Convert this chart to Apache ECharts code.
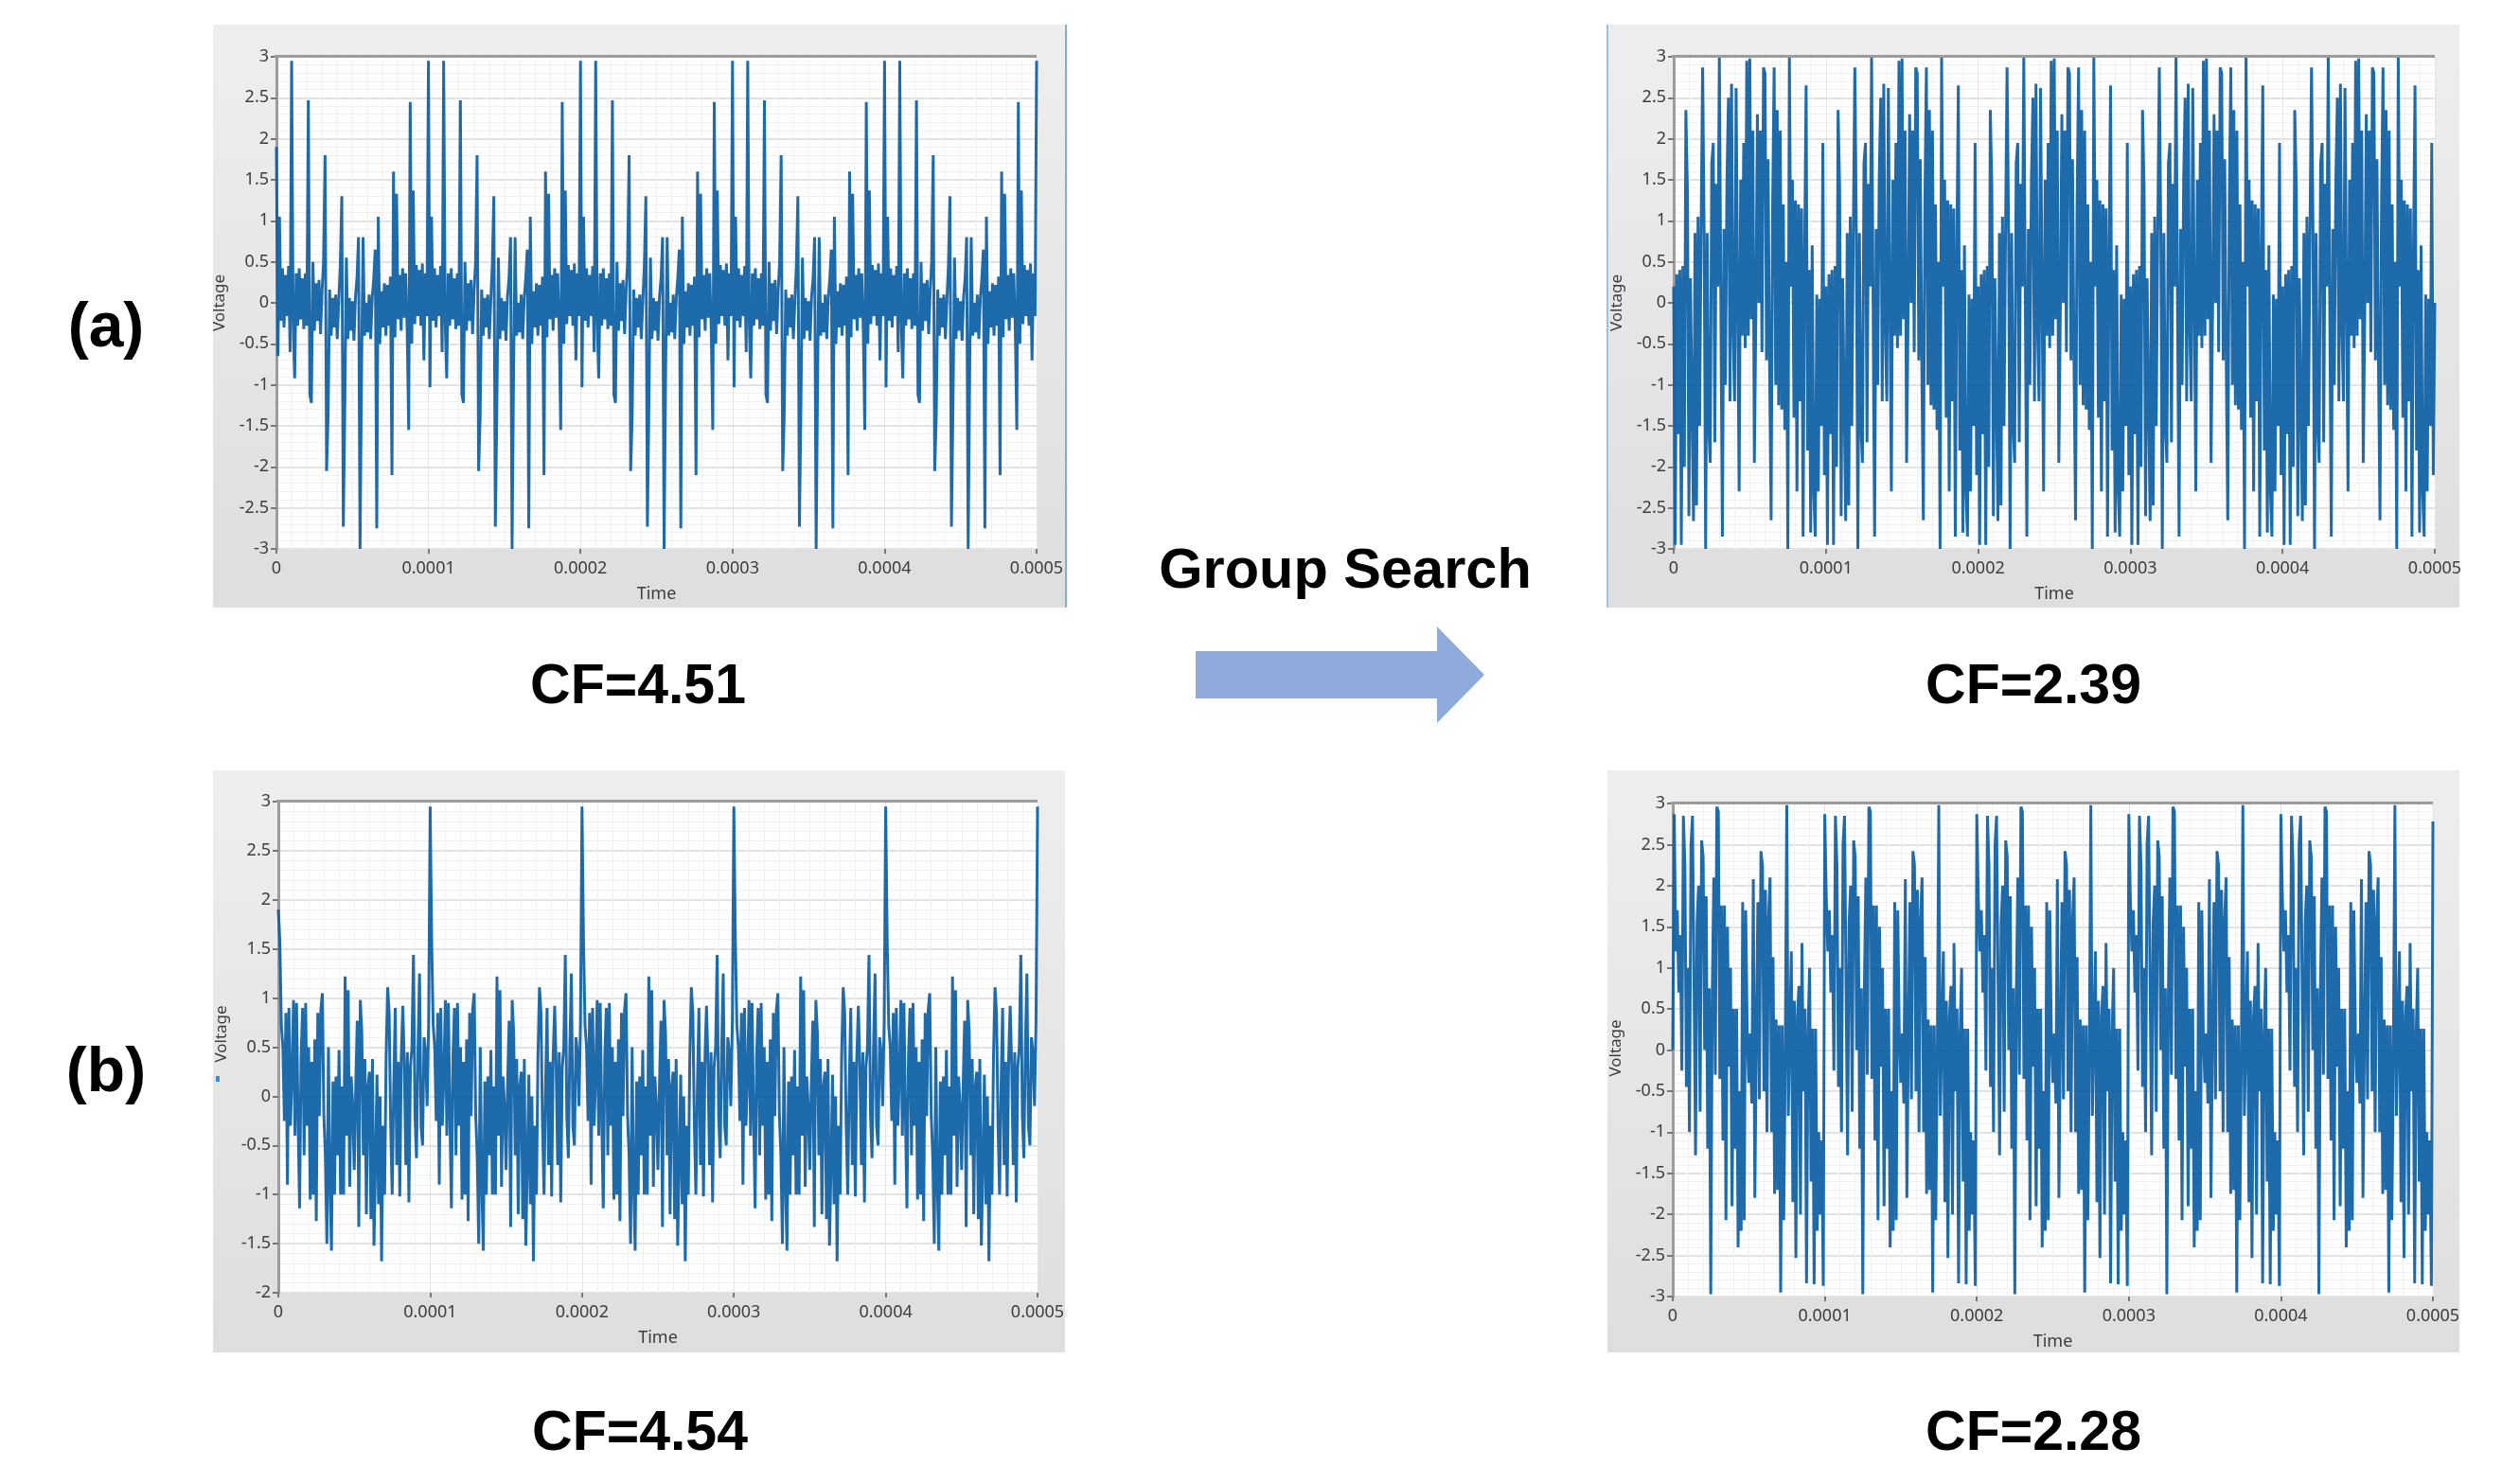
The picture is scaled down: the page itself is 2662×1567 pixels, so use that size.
<!DOCTYPE html>
<html>
<head>
<meta charset="utf-8">
<style>
html,body{margin:0;padding:0;background:#fff;}
#chart{width:2662px;height:1567px;filter:blur(0.7px);}
</style>
<script src="https://cdn.jsdelivr.net/npm/echarts@6/dist/echarts.min.js"></script>
</head>
<body>
<div id="chart"></div>
<script>
// Tick labels
var timeTicks = ['0','0.0001','0.0002','0.0003','0.0004','0.0005'];
var captions = ['CF=4.51','CF=2.39','CF=4.54','CF=2.28'];

// One 0.0001 s period of each waveform (the signals repeat 5 times)
var periodA = [2.95,-1.03,1.05,-0.22,0.42,-0.3,0.34,-0.16,0.45,-0.6,2.95,-0.22,-0.92,0.36,-0.28,0.42,-0.2,0.3,-0.32,0.36,
 -0.28,2.47,-1.12,-1.22,0.5,-0.34,0.24,-0.22,0.28,-0.38,0.14,0.5,1.8,-2.05,-1.38,0.16,-0.4,0.06,-0.3,0.1,
 -0.44,0.02,0.45,1.3,-2.73,-1.25,0.55,-0.44,0.06,-0.34,0.02,-0.46,0.08,0.3,0.8,-3,-0.82,0.8,-0.4,0.0,
 -0.36,0.1,-0.44,0.06,0.3,0.65,-2.75,1.05,-0.5,0.14,-0.3,0.24,-0.4,0.22,-0.28,0.32,-2.1,1.6,-0.42,1.33,
 -0.2,0.34,-0.34,0.42,-0.18,0.36,-0.32,-1.55,2.45,-0.5,1.37,-0.26,0.46,-0.16,0.4,-0.28,0.48,-0.7,0.36,-0.16];
var periodC = [0.2,-2.95,0.35,-1.6,0.4,-2.95,0.45,-2.0,2.35,1.4,-2.6,0.3,-1.2,-2.66,0.85,-2.47,1.05,-1.5,0.85,2.87,
 0.85,-3.0,0.85,-1.5,-1.95,1.7,1.95,-1.7,1.45,0.2,3.0,0.0,-2.85,0.9,-1.0,1.5,2.5,-1.2,2.67,-0.3,
 -1.2,2.62,0.1,-2.3,1.5,-0.4,1.95,-0.55,2.95,-0.4,2.98,-0.2,2.1,-1.95,-0.1,2.3,0.0,2.1,-0.6,2.87,
 2.8,-0.7,1.75,-0.75,-2.65,1.2,2.87,-1.0,2.35,-1.25,2.1,-1.3,1.2,-1.55,0.5,-3.0,3.0,0.2,1.5,-1.4,
 1.25,-2.3,1.2,-1.2,1.15,-2.85,0.6,2.65,-1.8,0.4,-2.8,0.7,-2.3,-2.85,0.1,-2.3,0.05,-1.5,1.95,-2.1];
var periodB = [2.95,1.58,0.72,0.5,-0.25,0.85,-0.9,0.9,-0.3,0.2,0.98,-0.4,0.95,-0.2,-1.14,0.4,0.9,-0.6,0.95,-0.3,
 0.5,-1.05,0.35,-1.0,0.58,-1.27,0.85,-0.2,0.88,1.05,-0.2,-0.6,-1.5,0.5,-0.9,-1.57,0.15,-1.0,0.2,-0.6,
 0.47,-1.0,0.1,-1.0,1.22,-0.4,1.08,-0.92,0.2,-0.1,-0.75,0.1,0.77,-1.33,0.98,0.65,-0.6,0.38,-1.2,0.1,
 0.25,-1.25,0.38,-1.52,-0.7,0.22,-1.1,0.0,-1.68,-0.3,-1.0,0.4,1.11,0.85,-0.3,-1.0,0.1,0.9,-0.7,0.35,
 -1.02,0.4,0.92,0.3,-0.7,0.45,-1.08,0.3,0.5,1.44,-0.2,-0.63,0.5,1.25,-0.3,-0.5,0.6,0.45,-0.1,0.75];
var periodD = [2.87,1.85,1.2,1.7,0.7,1.4,-0.25,2.85,2.25,-0.45,1.0,-1.0,2.5,2.85,0.8,-1.28,1.55,2.0,-0.75,2.55,
 2.35,0.0,1.87,-1.2,0.75,-2.97,0.7,2.1,-0.3,2.96,2.9,-0.35,1.76,-1.1,1.76,-2.07,1.5,-0.2,1.0,-1.9,
 0.5,-1.2,0.5,-2.4,-0.5,-2.2,1.8,-2.07,1.7,0.2,-0.4,0.2,-0.65,2.08,-1.8,0.2,1.8,-0.6,2.42,2.25,
 -0.5,1.95,-1.0,1.6,2.1,-1.0,1.13,-1.75,0.37,-1.7,0.3,-2.95,0.3,-2.07,-0.1,2.98,-0.8,0.2,1.2,-1.85,
 0.6,-2.53,0.4,0.78,-2.0,1.3,-0.5,0.5,-2.84,0.2,1.0,-1.6,0.26,-2.85,0.26,-2.2,-1.0,-2.0,-1.1,-2.87];

// Start-up samples of the first period, and the final sample at t = 0.0005
var leadA = [1.9,-0.65], leadC = [0.2], leadB = [1.9], leadD = [0.0,2.87];
var lastA = 2.95, lastC = 0.0, lastB = 2.95, lastD = 2.78;

var REPEATS = 5, SAMPLE_STEP = 1e-6;
function buildSeries(period, lead, last) {
  var out = [];
  for (var r = 0; r < REPEATS; r++) {
    for (var i = 0; i < period.length; i++) {
      var v = (r === 0 && i < lead.length) ? lead[i] : period[i];
      out.push([(r * period.length + i) * SAMPLE_STEP, v]);
    }
  }
  out.push([REPEATS * period.length * SAMPLE_STEP, last]);
  return out;
}

var panels = [
  {bg:[225,26,901,616], plot:[292,60,803,520], yMin:-3, data:buildSeries(periodA,leadA,lastA), capX:674, capY:727, nameShift:0},
  {bg:[1698,26,900,616], plot:[1768,60,804,520], yMin:-3, data:buildSeries(periodC,leadC,lastC), capX:2148, capY:727, nameShift:0},
  {bg:[225,814,900,615], plot:[294,847,802,519], yMin:-2, data:buildSeries(periodB,leadB,lastB), capX:676, capY:1516, nameShift:28},
  {bg:[1698,814,900,615], plot:[1767,849,803,521], yMin:-3, data:buildSeries(periodD,leadD,lastD), capX:2148, capY:1516, nameShift:4}
];

var grids=[], xAxes=[], yAxes=[], series=[];
var graphics=[];
var tickFont = {color:'#3d3d3d', fontFamily:'Noto Sans', fontSize:18};
panels.forEach(function(p, k){
  graphics.push({type:'rect', z:-10, silent:true, shape:{x:p.bg[0],y:p.bg[1],width:p.bg[2],height:p.bg[3]},
    style:{fill:new echarts.graphic.LinearGradient(0,0,0,1,[{offset:0,color:'#eeeeee'},{offset:1,color:'#dedede'}])}});
  graphics.push({type:'rect', z:20, silent:true, shape:{x:p.plot[0]-2,y:p.plot[1]-2,width:p.plot[2]+2,height:3}, style:{fill:'#9c9c9c'}});
  graphics.push({type:'text', z:30, silent:true, style:{text:captions[k], x:p.capX, y:p.capY, align:'center', verticalAlign:'middle',
    fill:'#000', font:'bold 59px "Liberation Sans"'}});
  grids.push({left:p.plot[0], top:p.plot[1], width:p.plot[2], height:p.plot[3], show:true, backgroundColor:'#fff', borderWidth:0, containLabel:false});
  xAxes.push({type:'value', gridIndex:k, min:0, max:0.0005, interval:0.0001,
    name:'Time', nameLocation:'middle', nameGap:39, nameTextStyle:tickFont,
    axisLine:{show:false, onZero:false},
    axisTick:{show:true, length:5, lineStyle:{color:'#777', width:2}},
    axisLabel:Object.assign({margin:12, showMinLabel:true, showMaxLabel:true, hideOverlap:false, formatter:function(v){return timeTicks[Math.round(v/0.0001)];}}, tickFont),
    splitLine:{show:true, lineStyle:{color:'#e4e4e4', width:1}},
    minorTick:{show:false, splitNumber:10},
    minorSplitLine:{show:true, lineStyle:{color:'#f1f1f1', width:1}}
  });
  yAxes.push({type:'value', gridIndex:k, min:p.yMin, max:3, interval:0.5,
    name:'Voltage', nameLocation:'middle', nameGap:51, nameRotate:90,
    nameTextStyle:{color:'#3d3d3d',fontFamily:'Noto Sans',fontSize:17,padding:[0,0,0,p.nameShift]},
    axisLine:{show:true, onZero:false, lineStyle:{color:'#9c9c9c', width:3}},
    axisTick:{show:true, length:6, lineStyle:{color:'#777', width:2}},
    axisLabel:Object.assign({margin:8, showMinLabel:true, showMaxLabel:true, hideOverlap:false}, tickFont),
    splitLine:{show:true, lineStyle:{color:'#e2e2e2', width:2}},
    minorTick:{show:false, splitNumber:5},
    minorSplitLine:{show:true, lineStyle:{color:'#f1f1f1', width:1}}
  });
  series.push({type:'line', xAxisIndex:k, yAxisIndex:k, data:p.data, showSymbol:false, symbol:'none', sampling:false,
    silent:true, clip:true, animation:false, lineStyle:{color:'#0d60a6', width:3, opacity:0.93, join:'bevel'}});
});

// Layout furniture: outer blue edges, labels, arrow
graphics.push({type:'rect', z:5, silent:true, shape:{x:1125,y:26,width:2,height:616}, style:{fill:'#7db1d8'}});
graphics.push({type:'rect', z:5, silent:true, shape:{x:1697,y:26,width:2,height:616}, style:{fill:'#9cc4e0'}});
graphics.push({type:'rect', z:25, silent:true, shape:{x:228,y:1137,width:4,height:6}, style:{fill:'#3a8fd8'}});
graphics.push({type:'text', z:30, silent:true, style:{text:'(a)', x:112, y:348, align:'center', verticalAlign:'middle', fill:'#000', font:'bold 66px "Liberation Sans"'}});
graphics.push({type:'text', z:30, silent:true, style:{text:'(b)', x:112, y:1135, align:'center', verticalAlign:'middle', fill:'#000', font:'bold 66px "Liberation Sans"'}});
graphics.push({type:'text', z:30, silent:true, style:{text:'Group Search', x:1421, y:605, align:'center', verticalAlign:'middle', fill:'#000', font:'bold 59.5px "Liberation Sans"'}});
graphics.push({type:'polygon', z:30, silent:true, shape:{points:[[1263,688],[1518,688],[1518,662],[1568,713],[1518,764],[1518,738],[1263,738]]}, style:{fill:'#8eaadb'}});

var chart = echarts.init(document.getElementById('chart'), null, {width:2662, height:1567});
chart.setOption({
  animation:false,
  backgroundColor:'#fff',
  grid:grids, xAxis:xAxes, yAxis:yAxes, series:series,
  graphic:{elements:graphics}
});
</script>
</body>
</html>
